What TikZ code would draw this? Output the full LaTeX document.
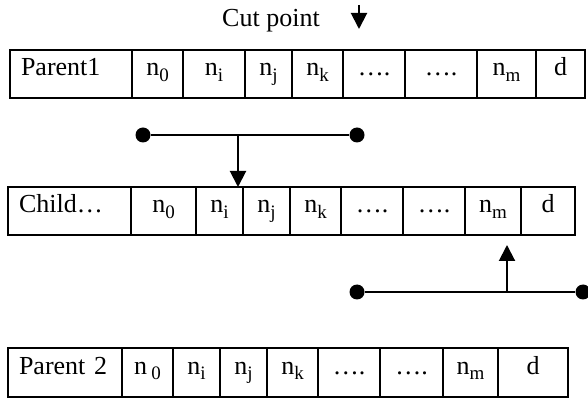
\documentclass[tikz,border=0pt]{standalone}
\usepackage{fontspec}
\setmainfont{Liberation Serif}
\usetikzlibrary{positioning, arrows.meta}

\newcommand{\lowsub}[1]{\raisebox{-0.45ex}{\fontsize{9.5}{10}\selectfont #1}}

\begin{document}
\begin{tikzpicture}[
        x=0.5pt, y=-0.5pt,
        every node/.style={font=\fontsize{13}{15}\selectfont},
        cell/.style={draw, line width=1pt, outer sep=0pt, inner sep=0pt, minimum height=24pt, text height=9pt, text depth=7pt, right=0pt of #1},
        head/.style={draw, line width=0.7pt, outer sep=0pt, inner xsep=5.5pt, inner ysep=0pt, minimum height=24pt, text height=9pt, text depth=7pt, align=left, anchor=north west},
        dot/.style={circle, fill, inner sep=0pt, minimum size=7.5pt},
        link/.style={line width=1pt},
        arr/.style={line width=1pt, -{Triangle[width=8pt, length=8pt]}}
    ]
    \useasboundingbox (0,0) rectangle (588,400);

    % first parent
    \node[head, text width=50pt] (pa-head) at (10,50) {Parent1};
    \node[cell=pa-head, minimum width=25.5pt] (pa-n0) {n\lowsub{0}};
    \node[cell=pa-n0, minimum width=31pt] (pa-ni) {n\lowsub{i}};
    \node[cell=pa-ni, minimum width=23.5pt] (pa-nj) {n\lowsub{j}};
    \node[cell=pa-nj, minimum width=25.5pt] (pa-nk) {n\lowsub{k}};
    \node[cell=pa-nk, minimum width=31pt] (pa-dots1) {\ldots.};
    \node[cell=pa-dots1, minimum width=36pt] (pa-dots2) {\ldots.};
    \node[cell=pa-dots2, minimum width=29.5pt] (pa-nm) {n\lowsub{m}};
    \node[cell=pa-nm, minimum width=24.5pt] (pa-d) {d};

    % child
    \node[head, text width=50.5pt] (ch-head) at (8,187) {Child…};
    \node[cell=ch-head, minimum width=32.5pt] (ch-n0) {n\lowsub{0}};
    \node[cell=ch-n0, minimum width=23.5pt] (ch-ni) {n\lowsub{i}};
    \node[cell=ch-ni, minimum width=23.5pt] (ch-nj) {n\lowsub{j}};
    \node[cell=ch-nj, minimum width=25.5pt] (ch-nk) {n\lowsub{k}};
    \node[cell=ch-nk, minimum width=31pt] (ch-dots1) {\ldots.};
    \node[cell=ch-dots1, minimum width=31pt] (ch-dots2) {\ldots.};
    \node[cell=ch-dots2, minimum width=28pt] (ch-nm) {n\lowsub{m}};
    \node[cell=ch-nm, minimum width=27pt] (ch-d) {d};

    % second parent
    \node[head, text width=46pt, minimum height=24.5pt] (pb-head) at (8,348) {Parent 2};
    \node[cell=pb-head, minimum width=25.5pt, minimum height=24.5pt] (pb-n0) {n\,\lowsub{0}};
    \node[cell=pb-n0, minimum width=23.5pt, minimum height=24.5pt] (pb-ni) {n\lowsub{i}};
    \node[cell=pb-ni, minimum width=23.5pt, minimum height=24.5pt] (pb-nj) {n\lowsub{j}};
    \node[cell=pb-nj, minimum width=25.5pt, minimum height=24.5pt] (pb-nk) {n\lowsub{k}};
    \node[cell=pb-nk, minimum width=31pt, minimum height=24.5pt] (pb-dots1) {\ldots.};
    \node[cell=pb-dots1, minimum width=31.5pt, minimum height=24.5pt] (pb-dots2) {\ldots.};
    \node[cell=pb-dots2, minimum width=27.5pt, minimum height=24.5pt] (pb-nm) {n\lowsub{m}};
    \node[cell=pb-nm, minimum width=35pt, minimum height=24.5pt] (pb-d) {d};

    % cut point
    \node[anchor=base] (cut) at (271,27) {Cut point};
    \coordinate (cut-top) at (359,5);
    \coordinate (cut-tip) at (359,29);
    \draw[arr] (cut-top) -- (cut-tip);

    % crossover links
    \node[dot] (l1) at (143,135) {};
    \node[dot] (r1) at (357,135) {};
    \coordinate (m1) at (238,135);
    \draw[link] (l1) -- (r1);
    \draw[arr] (m1) -- (m1 |- ch-ni.north);

    \node[dot] (l2) at (357,292) {};
    \node[dot] (r2) at (583,292) {};
    \coordinate (m2) at (507,292);
    \draw[link] (l2) -- (r2);
    \draw[arr, shorten >=5pt] (m2) -- (m2 |- ch-nm.south);
\end{tikzpicture}
\end{document}
